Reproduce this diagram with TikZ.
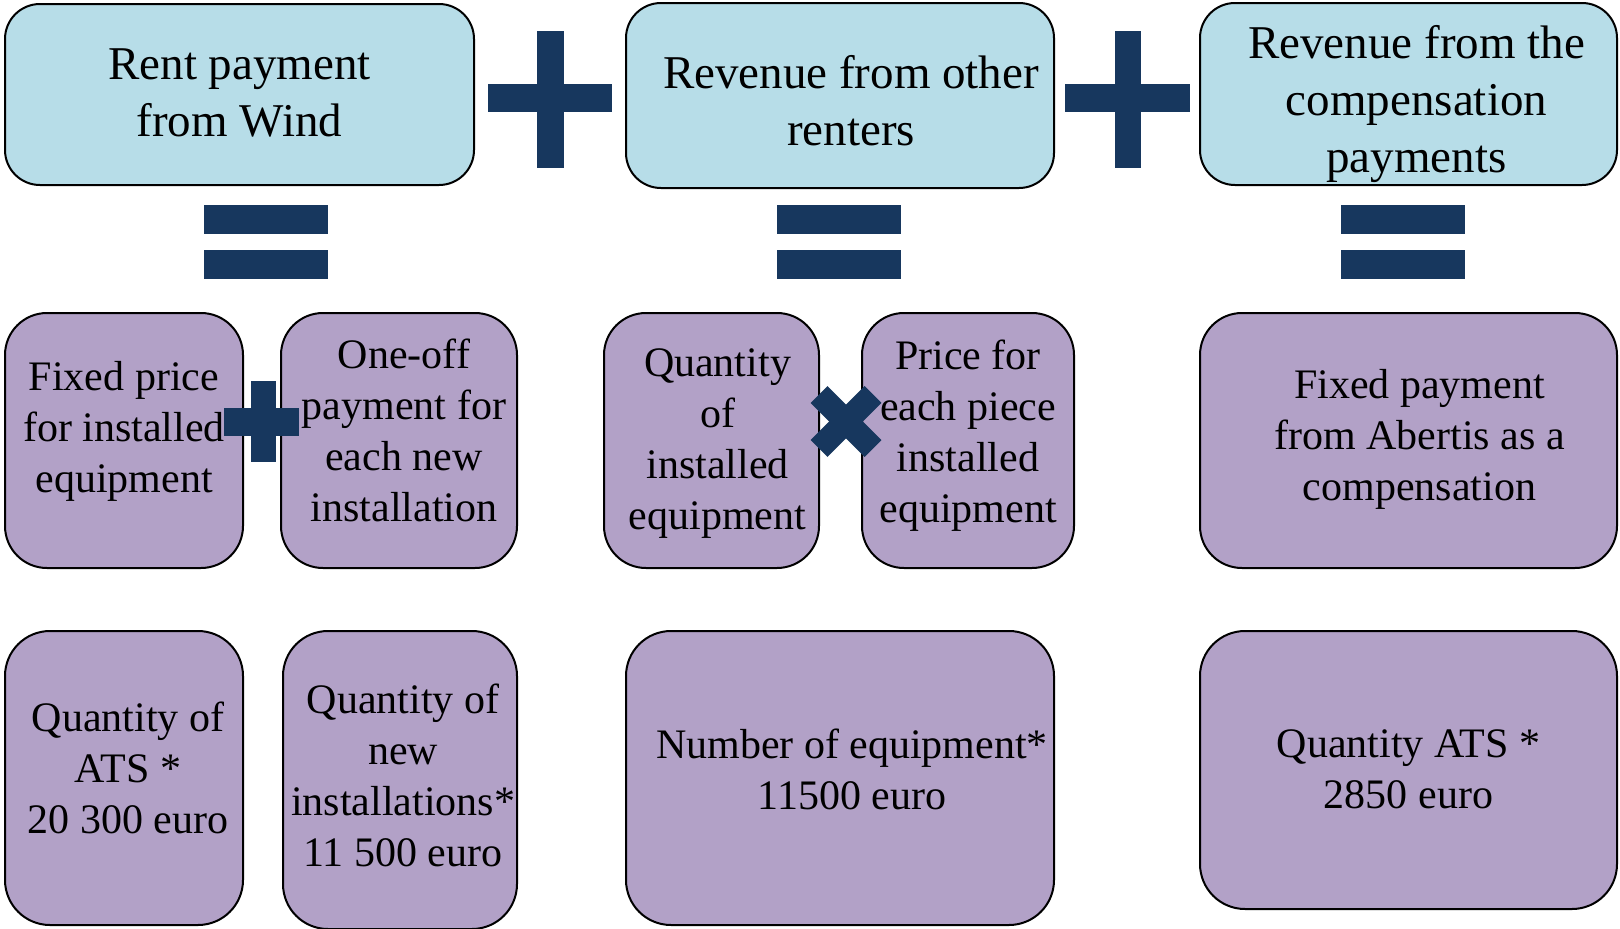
\documentclass[tikz,border=0pt]{standalone}
\usepackage{fontspec}
\setmainfont{Liberation Serif}

\definecolor{sky}{HTML}{B7DDE8}
\definecolor{lilac}{HTML}{B2A1C7}
\definecolor{navy}{HTML}{17375E}

\begin{document}
\begin{tikzpicture}[
        x=1pt, y=-1pt,
        total/.style={
            rectangle,
            draw,
            line width=2pt,
            rounded corners=35pt,
            fill=sky,
        },
        part/.style={
            rectangle,
            draw,
            line width=2pt,
            rounded corners=42pt,
            fill=lilac,
        },
        totaltext/.style={
            align=center,
            inner sep=0pt,
            font=\fontsize{47}{57}\selectfont,
        },
        parttext/.style={
            align=center,
            inner sep=0pt,
            font=\fontsize{42}{51}\selectfont,
        },
        opsign/.style={fill=navy},
        opcross/.style={draw=navy, line width=24pt},
    ]

    \useasboundingbox (0,0) rectangle (1620,929);

    % top row: the three sums
    \node (rent)  at (239.5,94.5) [total, minimum width=469pt, minimum height=181pt] {};
    \node (other) at (840,95.5)   [total, minimum width=428pt, minimum height=185pt] {};
    \node (comp)  at (1408.5,94)  [total, minimum width=417pt, minimum height=182pt] {};

    \node (rent-text)  at ([shift={(0,-2)}]rent.center)  [totaltext] {Rent payment\\from Wind};
    \node (other-text) at ([shift={(11,5)}]other.center) [totaltext] {Revenue from other\\renters};
    \node (comp-text)  at ([shift={(8,10)}]comp.center)  [totaltext] {Revenue from the\\compensation\\payments};

    % middle row
    \node (fixed)   at (124,440.5)    [part, minimum width=238pt, minimum height=255pt] {};
    \node (oneoff)  at (399,440.5)    [part, minimum width=236pt, minimum height=255pt] {};
    \node (qty)     at (711.5,440.5)  [part, minimum width=215pt, minimum height=255pt] {};
    \node (price)   at (968,440.5)    [part, minimum width=212pt, minimum height=255pt] {};
    \node (abertis) at (1408.5,440.5) [part, minimum width=417pt, minimum height=255pt] {};

    \node (fixed-text)   at ([shift={(0,-9)}]fixed.center)    [parttext] {Fixed price\\for installed\\equipment};
    \node (oneoff-text)  at ([shift={(5,-10)}]oneoff.center)  [parttext] {One-off\\payment for\\each new\\installation};
    \node (qty-text)     at ([shift={(6,3)}]qty.center)       [parttext] {Quantity\\of\\installed\\equipment};
    \node (price-text)   at ([shift={(0,-5)}]price.center)    [parttext] {Price for\\each piece\\installed\\equipment};
    \node (abertis-text) at ([shift={(11,-1)}]abertis.center) [parttext] {Fixed payment\\from Abertis as a\\compensation};

    % bottom row
    \node (atsval)   at (124,778)    [part, rounded corners=45pt, minimum width=238pt, minimum height=294pt] {};
    \node (newval)   at (400,780)    [part, rounded corners=45pt, minimum width=234pt, minimum height=298pt] {};
    \node (equipval) at (840,778)    [part, rounded corners=45pt, minimum width=428pt, minimum height=294pt] {};
    \node (compval)  at (1408.5,770) [part, rounded corners=45pt, minimum width=417pt, minimum height=278pt] {};

    \node (atsval-text)   at ([shift={(4,-10)}]atsval.center)  [parttext] {Quantity of\\ATS *\\20 300 euro};
    \node (newval-text)   at ([shift={(3,-5)}]newval.center)   [parttext] {Quantity of\\new\\installations*\\11 500 euro};
    \node (equipval-text) at ([shift={(12,-9)}]equipval.center) [parttext] {Number of equipment*\\11500 euro};
    \node (compval-text)  at ([shift={(0,-1)}]compval.center)  [parttext] {Quantity ATS *\\2850 euro};

    % plus signs between the sums
    \fill [opsign] (537,31) rectangle (564,168);
    \fill [opsign] (488,84) rectangle (612,112);
    \fill [opsign] (1115,31) rectangle (1141,168);
    \fill [opsign] (1065,84) rectangle (1190,112);

    % equals signs
    \foreach \x in {204, 777, 1341} {
        \fill [opsign] (\x,205) rectangle (\x+124,234);
        \fill [opsign] (\x,250) rectangle (\x+124,279);
    }

    % plus and times in the middle row
    \fill [opsign] (251,381) rectangle (276,462);
    \fill [opsign] (224,408) rectangle (299,436);
    \draw [opcross] (819,394.5) -- (873,448.5);
    \draw [opcross] (819,448.5) -- (873,394.5);

\end{tikzpicture}
\end{document}
